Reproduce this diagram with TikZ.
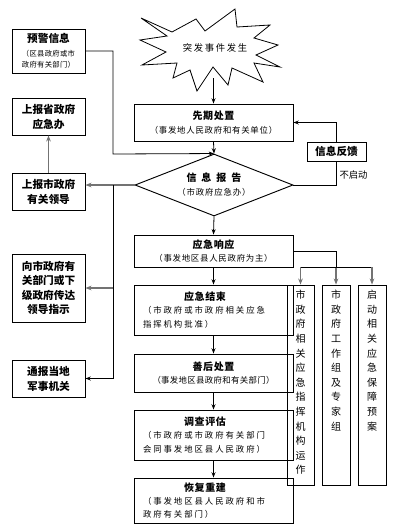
\documentclass[tikz,border=0pt]{standalone}
\usepackage{fontspec}
\setmainfont{Noto Sans CJK SC}
\usetikzlibrary{arrows.meta,shapes.geometric}

\newcommand{\boxtitle}[2][6]{{\fontsize{7.5}{10}\selectfont\bfseries\addfontfeatures{LetterSpace=#1}#2}}
\newcommand{\boxnote}[2][9]{{\fontsize{6.3}{10}\selectfont\mdseries\addfontfeatures{LetterSpace=#1}#2}}

\begin{document}
\begin{tikzpicture}[x=0.75pt,y=-0.75pt,
    box/.style={draw,line width=0.7pt,inner sep=1pt,align=center},
    lbox/.style={box,minimum width=54.75pt,minimum height=27.75pt,font=\fontsize{8}{11.25}\selectfont\bfseries},
    mbox/.style={box,minimum width=119.25pt,font=\fontsize{7}{10}\selectfont},
    wbox/.style={mbox,align=left,text width=105.75pt,inner xsep=6.75pt},
    cbox/.style={draw,line width=0.7pt,minimum height=150pt,inner sep=0pt},
    vtxt/.style={anchor=north,inner sep=0pt,align=center,font=\fontsize{7.5}{10.95}\selectfont},
    arr/.style={-{Stealth[length=4pt,width=3pt]},line width=0.6pt},
    garr/.style={-{Stealth[length=4.5pt,width=3.5pt]},line width=1.1pt,black!55},
  ]
  \useasboundingbox (0,0) rectangle (400,532);

  % the burst at the top
  \draw[line width=0.6pt] (141,18)--(172,32)--(196,19)--(205,31)--(235,9)--(237,27)--(270,25)
    --(254,38)--(278,45)--(256,55)--(280,67)--(254,63)--(263,82)--(232,68)--(228,85)
    --(213,67)--(197,91)--(190,70)--(173,78)--(177,63)--(142,65)--(166,52)--(140,40)
    --(167,36)--cycle;
  \node (tf) at (215,48) {\fontsize{7}{9}\selectfont\addfontfeatures{LetterSpace=18}突发事件发生};
  \coordinate (tfd) at (213.5,78);

  % left column
  \node[lbox,minimum height=33pt] (yj) at (48.5,51)
    {预警信息\\[-1pt]\boxnote[4]{\fontsize{5.5}{7.3}\selectfont（区县政府或市}\\[-3pt]\boxnote[4]{\fontsize{5.5}{7.3}\selectfont 政府有关部门）}};
  \node[lbox] (sbs) at (48.5,116.5) {上报省政府\\应急办};
  \node[lbox] (sbsz) at (48.5,191.5) {上报市政府\\有关领导};
  \node[lbox,minimum height=51pt,font=\fontsize{8}{10.7}\selectfont\bfseries] (cd) at (48.5,288)
    {向市政府有\\关部门或下\\级政府传达\\领导指示};
  \node[lbox] (tb) at (48.5,378.5) {通报当地\\军事机关};

  % main chain
  \node[mbox,minimum height=27.75pt] (xq) at (213.5,122.5)
    {\boxtitle{先期处置}\\\boxnote{（事发地人民政府和有关单位）}};
  \node[draw,line width=0.7pt,diamond,aspect=2.55,minimum width=118.5pt,minimum height=46.5pt,
    inner sep=0pt,align=center,font=\fontsize{7}{10.5}\selectfont] (xx) at (214,185)
    {\boxtitle[50]{信息报告}\\\boxnote[10]{（市政府应急办）}};
  \node[mbox,minimum height=24pt] (xy) at (213.5,251)
    {\boxtitle{应急响应}\\\boxnote{（事发地区县人民政府为主）}};
  \node[wbox,minimum height=37.5pt] (js) at (213.5,310)
    {\makebox[93pt]{\boxtitle{应急结束}}\\\boxnote[23]{（市政府或市政府相关应急}\\\boxnote[23]{指挥机构批准）}};
  \node[mbox,minimum height=28.5pt] (sh) at (213.5,373)
    {\boxtitle{善后处置}\\\boxnote[4]{（事发地区县政府和有关部门）}};
  \node[wbox,minimum height=37.5pt] (dc) at (213.5,435)
    {\makebox[93pt]{\boxtitle{调查评估}}\\\boxnote[23]{（市政府或市政府有关部门}\\\boxnote[23]{会同事发地区县人民政府）}};
  \node[wbox,minimum height=33.75pt] (hf) at (213.5,500.5)
    {\makebox[93pt]{\boxtitle{恢复重建}}\\\boxnote[23]{（事发地区县人民政府和市}\\\boxnote[23]{政府有关部门）}};

  % feedback and the three columns
  \node[box,minimum width=44.25pt,minimum height=14.25pt,font=\fontsize{8}{10}\selectfont\bfseries] (fk) at (336.5,151.5) {信息反馈};
  \node[cbox,minimum width=20.25pt] (c1) at (300.5,385) {};
  \node[cbox,minimum width=21pt] (c2) at (336,385) {};
  \node[cbox,minimum width=21pt] (c3) at (372,385) {};
  \node[vtxt] (t1) at (300.5,290) {市\\政\\府\\相\\关\\应\\急\\指\\挥\\机\\构\\运\\作};
  \node[vtxt] (t2) at (336,290) {市\\政\\府\\工\\作\\组\\及\\专\\家\\组};
  \node[vtxt] (t3) at (372,290) {启\\动\\相\\关\\应\\急\\保\\障\\预\\案};

  \coordinate (jl) at (113,154);
  \coordinate (fz) at (113,185);
  \coordinate (fj) at (336,267);

  % connectors
  \draw[arr] (tfd) -- (xq.north);
  \draw[arr] (xq.south) -- (xx.north);
  \draw[arr] (yj.east) -| (jl) -- (xx.north);
  \draw[garr] (xx.west) -- (xx.west -| sbsz.east);
  \draw[garr] (sbsz.north) -- (sbs.south);
  \draw[arr] (fz) |- (tb.east);
  \draw[garr] (fz |- cd.east) -- (cd.east);
  \draw[line width=0.6pt] (xx.east) -| (fk.south) node[pos=0.71,right,inner sep=2pt,font=\fontsize{7}{9}\selectfont] (bqd) {不启动};
  \draw[arr] (fk.north) |- (xq.east);
  \draw[arr] (xx.south) -- (xy.north);
  \draw[line width=0.6pt] (xy.east) -| (fj);
  \draw[garr] (fj) -- (c2.north);
  \draw[line width=0.6pt] (c1.north |- fj) -- (c3.north |- fj);
  \draw[garr] (c1.north |- fj) -- (c1.north);
  \draw[garr] (c3.north |- fj) -- (c3.north);
  \draw[arr] (xy.south) -- (js.north);
  \draw[arr] (js.south) -- (sh.north);
  \draw[arr] (sh.south) -- (dc.north);
  \draw[arr] (dc.south) -- (hf.north);
\end{tikzpicture}
\end{document}
